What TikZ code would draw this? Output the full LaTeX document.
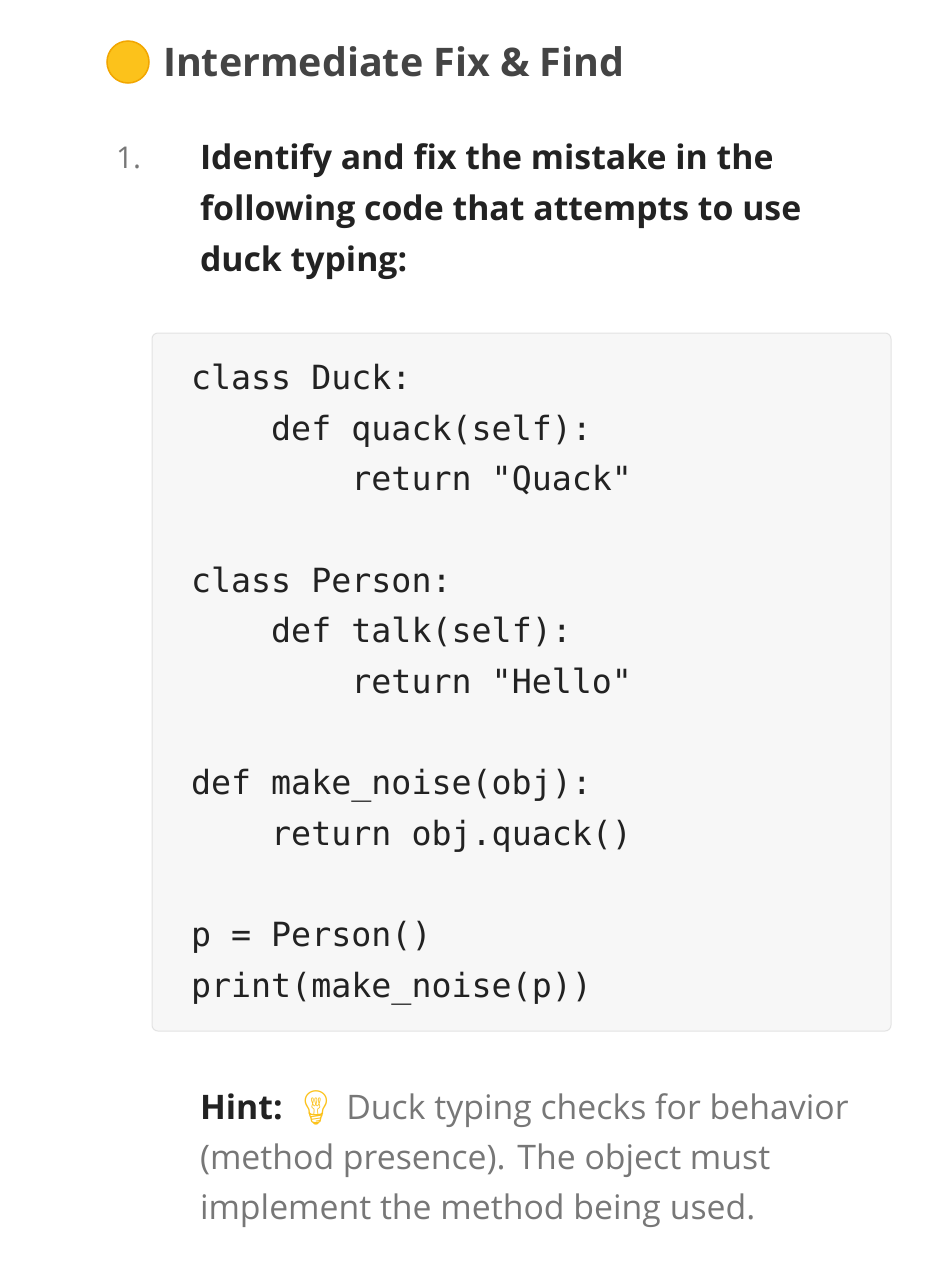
\documentclass[tikz,border=0pt]{standalone}
\usepackage{fontspec}
\setmainfont{Open Sans}
\newfontfamily\codefont{DejaVu Sans Mono}
\newfontfamily\emojifont{Noto Emoji}
\definecolor{titlec}{HTML}{444444}
\definecolor{bodyc}{HTML}{222222}
\definecolor{hintc}{HTML}{777777}
\definecolor{numc}{HTML}{777777}
\definecolor{boxfill}{HTML}{F7F7F7}
\definecolor{boxline}{HTML}{E3E3E3}
\definecolor{yel}{HTML}{FCC21B}
\definecolor{yelo}{HTML}{F2A600}
\begin{document}
\begin{tikzpicture}[x=1pt,y=-1pt,
  txt/.style={anchor=base west,inner sep=0pt,outer sep=0pt},
  code/.style={txt,font=\codefont\fontsize{33.3}{40}\selectfont,text=bodyc},
  hint/.style={txt,font=\fontsize{33.8}{40}\selectfont,text=hintc}]
\useasboundingbox[fill=white] (0,0) rectangle (948,1280);
\node[circle,fill=yel,draw=yelo,line width=1.5pt,minimum size=42pt,inner sep=0pt] (dot) at (128,62) {};
\node[txt,font=\bfseries\fontsize{39.4}{40}\selectfont,text=titlec] (title) at (163,76) {Intermediate Fix \& Find};
\node[txt,font=\fontsize{30}{40}\selectfont,text=numc] (num) at (116,168) {1.};
\node[txt,font=\bfseries\fontsize{33.8}{40}\selectfont,text=bodyc] (q1) at (200,169) {Identify and fix the mistake in the};
\node[txt,font=\bfseries\fontsize{33.8}{40}\selectfont,text=bodyc] (q2) at (200,220) {following code that attempts to use};
\node[txt,font=\bfseries\fontsize{33.8}{40}\selectfont,text=bodyc] (q3) at (200,271) {duck typing:};
\draw[fill=boxfill,draw=boxline,line width=1pt,rounded corners=6pt] (152,333) rectangle (891,1031);
\node[code] (c1) at (191,389) {class Duck:};
\node[code] (c2) at (191,440) {\ \ \ \ def quack(self):};
\node[code] (c3) at (191,490) {\ \ \ \ \ \ \ \ return "Quack"};
\node[code] (c5) at (191,592) {class Person:};
\node[code] (c6) at (191,642) {\ \ \ \ def talk(self):};
\node[code] (c7) at (191,693) {\ \ \ \ \ \ \ \ return "Hello"};
\node[code] (c9) at (191,794) {def make\_noise(obj):};
\node[code] (c10) at (191,845) {\ \ \ \ return obj.quack()};
\node[code] (c12) at (191,946) {p = Person()};
\node[code] (c13) at (191,997) {print(make\_noise(p))};
\node[hint] (h1) at (200,1119) {\textbf{\color{bodyc}Hint:} {\emojifont\fontsize{34}{40}\selectfont\color{yel}💡} Duck typing checks for behavior};
\node[hint] (h2) at (200,1169) {(method presence). The object must};
\node[hint] (h3) at (200,1219) {implement the method being used.};
\end{tikzpicture}
\end{document}
